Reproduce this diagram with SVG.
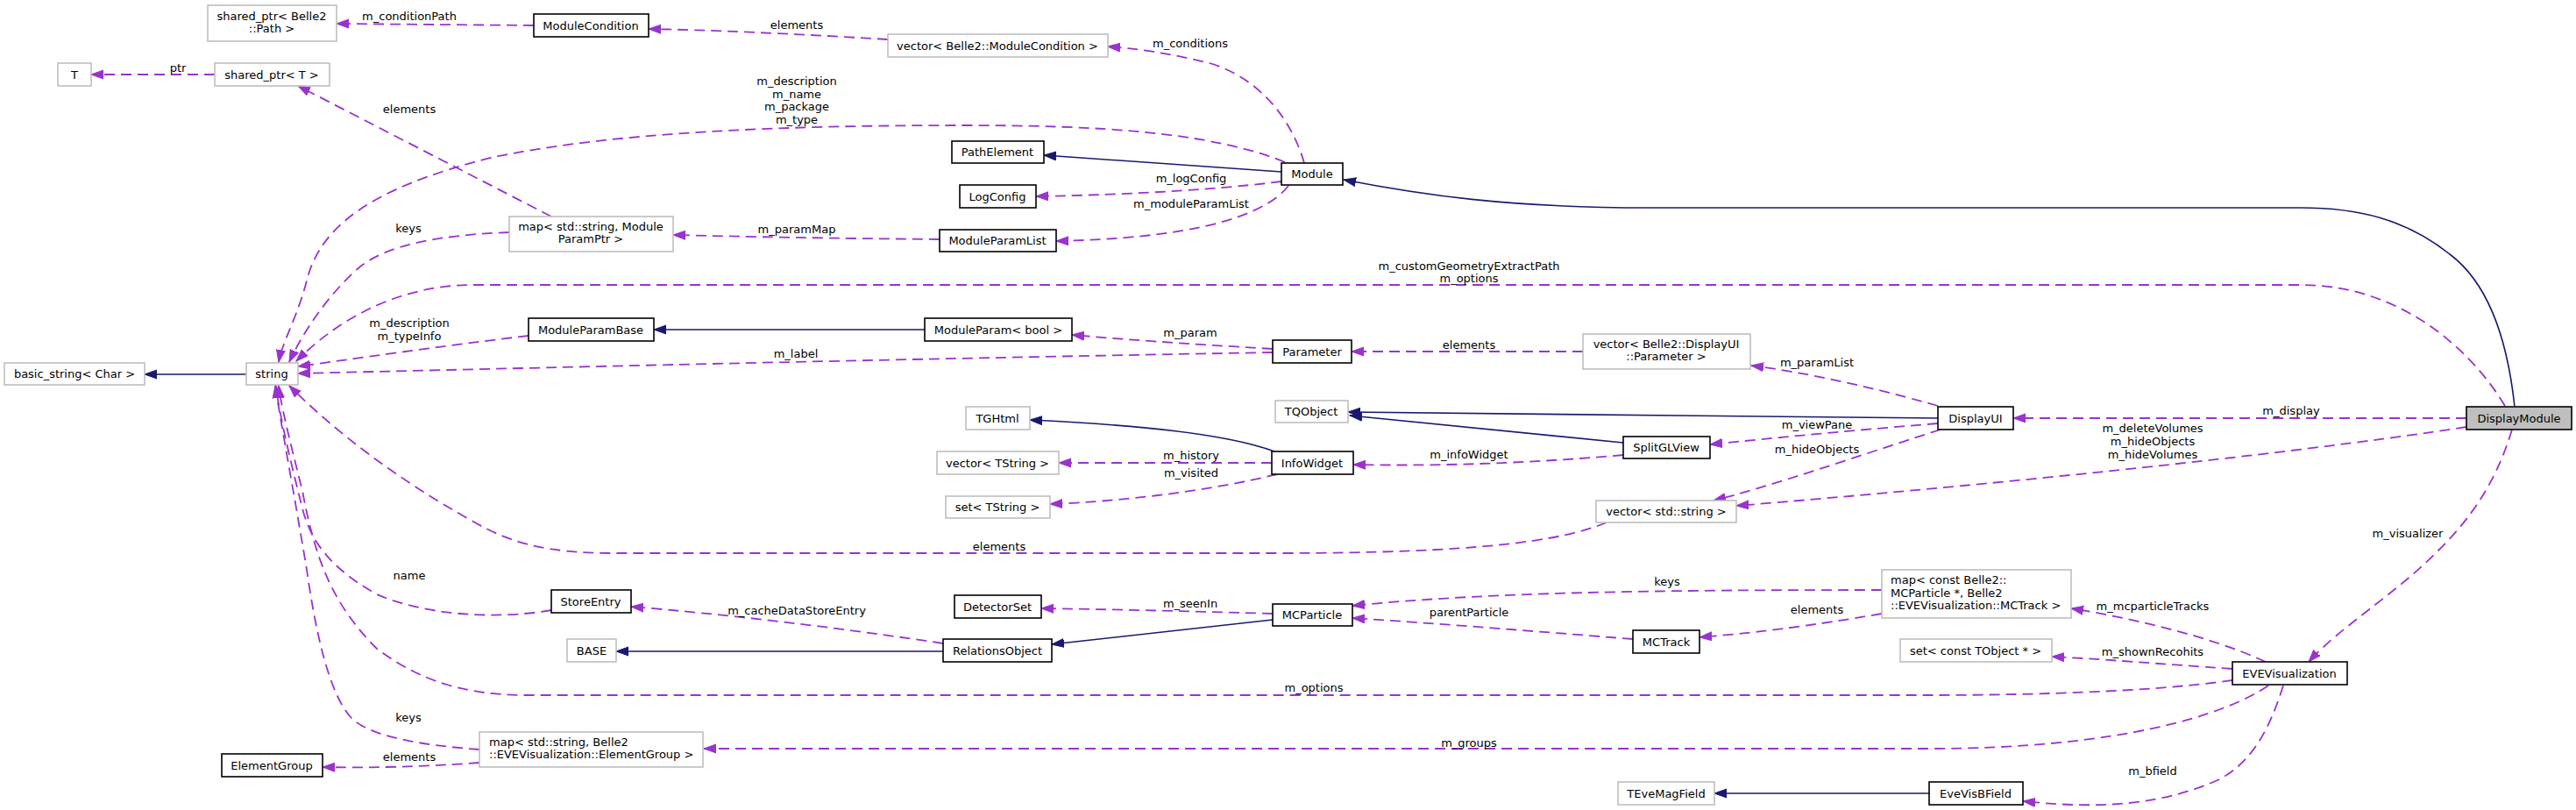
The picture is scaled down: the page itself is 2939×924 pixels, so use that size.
<svg xmlns="http://www.w3.org/2000/svg" width="2939" height="924" viewBox="0 0 2939 924">
<style>
.nd rect{fill:#fff;stroke:#000;stroke-width:1.6}
.gr rect{fill:#fff;stroke:#bfbfbf;stroke-width:1.6}
.me rect{fill:#bfbfbf;stroke:#000;stroke-width:1.6}
text{font-family:"DejaVu Sans","Liberation Sans",sans-serif;font-size:13px;fill:#000}
.c{text-anchor:middle}
.u{fill:none;stroke:#9a32cd;stroke-width:1.8;stroke-dasharray:12,7}
.i{fill:none;stroke:#191970;stroke-width:1.6}
</style>
<defs>
<marker id="ap" markerWidth="16" markerHeight="12" refX="14" refY="5.5" orient="auto" markerUnits="userSpaceOnUse"><path d="M0,0.5 L14,5.5 L0,10.5 z" fill="#9a32cd" stroke="#9a32cd" stroke-width="1"/></marker>
<marker id="an" markerWidth="16" markerHeight="12" refX="14" refY="5.5" orient="auto" markerUnits="userSpaceOnUse"><path d="M0,0.5 L14,5.5 L0,10.5 z" fill="#191970" stroke="#191970" stroke-width="1"/></marker>
</defs>
<rect width="2939" height="924" fill="#fff"/>
<g id="connectors">
<path class="i" marker-end="url(#an)" d="M2869,464 C2860,380 2835,320 2795,290 C2745,250 2690,237 2625,237 L1880,237 C1720,237 1620,222 1533,205"/>
<path class="u" marker-end="url(#ap)" d="M2814,477 L2297,477"/>
<path class="u" marker-end="url(#ap)" d="M2814,487 C2600,520 2250,555 1981,577"/>
<path class="u" marker-end="url(#ap)" d="M2866,490 C2845,560 2810,600 2780,630 C2730,680 2670,715 2634,755"/>
<path class="u" marker-end="url(#ap)" d="M2858,463 C2820,400 2740,325 2625,325 L540,325 C460,325 390,360 338,412"/>
<path class="i" marker-end="url(#an)" d="M1462,196 L1191,177"/>
<path class="u" marker-end="url(#ap)" d="M1462,207 C1400,215 1300,222 1182,224"/>
<path class="u" marker-end="url(#ap)" d="M1470,212 C1440,250 1350,272 1205,275"/>
<path class="u" marker-end="url(#ap)" d="M1488,186 C1475,140 1440,90 1380,72 C1330,60 1300,56 1264,53"/>
<path class="u" marker-end="url(#ap)" d="M1466,185 C1380,150 1250,143 1100,143 C900,143 700,150 560,180 C420,215 365,260 350,320 C340,360 322,390 318,413"/>
<path class="u" marker-end="url(#ap)" d="M1013,45 C900,38 800,34 740,33"/>
<path class="u" marker-end="url(#ap)" d="M609,29 L384,27"/>
<path class="u" marker-end="url(#ap)" d="M245,85 L104,85"/>
<path class="u" marker-end="url(#ap)" d="M629,247 L340,98"/>
<path class="u" marker-end="url(#ap)" d="M581,265 C500,268 440,280 410,305 C375,335 345,380 330,413"/>
<path class="u" marker-end="url(#ap)" d="M1072,273 C950,272 850,270 768,268"/>
<path class="i" marker-end="url(#an)" d="M1055,376 L746,376"/>
<path class="u" marker-end="url(#ap)" d="M603,383 C500,395 400,410 340,418"/>
<path class="u" marker-end="url(#ap)" d="M1452,398 C1350,392 1280,387 1223,382"/>
<path class="u" marker-end="url(#ap)" d="M1452,402 C1000,410 600,420 340,426"/>
<path class="u" marker-end="url(#ap)" d="M1806,401 L1542,401"/>
<path class="u" marker-end="url(#ap)" d="M2211,463 C2130,440 2060,425 1998,417"/>
<path class="i" marker-end="url(#an)" d="M2211,477 C2000,475 1700,472 1538,470"/>
<path class="i" marker-end="url(#an)" d="M1852,505 L1540,474"/>
<path class="u" marker-end="url(#ap)" d="M2211,483 C2100,492 2000,502 1951,507"/>
<path class="u" marker-end="url(#ap)" d="M2214,490 C2120,520 2020,555 1955,571"/>
<path class="u" marker-end="url(#ap)" d="M1852,519 C1750,528 1650,532 1544,530"/>
<path class="i" marker-end="url(#an)" d="M1454,515 C1400,495 1300,485 1175,479"/>
<path class="u" marker-end="url(#ap)" d="M1451,528 L1208,528"/>
<path class="u" marker-end="url(#ap)" d="M1457,541 C1380,560 1280,572 1198,575"/>
<path class="u" marker-end="url(#ap)" d="M1833,596 C1780,618 1680,631 1460,631 L700,631 C620,631 580,618 540,595 C450,545 380,490 330,440"/>
<path class="u" marker-end="url(#ap)" d="M629,696 C560,708 480,700 430,678 C380,650 355,620 345,580 C330,520 318,470 315,440"/>
<path class="u" marker-end="url(#ap)" d="M547,855 C480,850 420,840 400,818 C375,790 360,720 350,650 C335,560 320,480 314,440"/>
<path class="u" marker-end="url(#ap)" d="M547,870 C480,875 420,876 368,875"/>
<path class="u" marker-end="url(#ap)" d="M2547,776 C2450,790 2300,793 2200,793 L600,793 C520,793 470,770 430,740 C380,690 360,640 345,560 C330,500 320,460 318,440"/>
<path class="u" marker-end="url(#ap)" d="M2588,782 C2540,815 2420,854 2200,854 L803,854"/>
<path class="u" marker-end="url(#ap)" d="M2605,782 C2590,830 2570,870 2530,890 C2450,925 2370,920 2308,914"/>
<path class="i" marker-end="url(#an)" d="M2201,905 L1956,905"/>
<path class="u" marker-end="url(#ap)" d="M2585,755 C2520,725 2430,705 2363,694"/>
<path class="u" marker-end="url(#ap)" d="M2547,763 C2460,757 2400,752 2341,749"/>
<path class="u" marker-end="url(#ap)" d="M2147,673 C1900,673 1700,675 1543,691"/>
<path class="u" marker-end="url(#ap)" d="M2147,700 C2060,715 2000,722 1939,727"/>
<path class="u" marker-end="url(#ap)" d="M1863,729 C1750,720 1650,712 1543,705"/>
<path class="u" marker-end="url(#ap)" d="M1452,700 C1350,697 1260,695 1188,694"/>
<path class="i" marker-end="url(#an)" d="M1452,707 L1200,735"/>
<path class="i" marker-end="url(#an)" d="M1076,743 L703,743"/>
<path class="u" marker-end="url(#ap)" d="M1076,734 C950,715 820,700 720,692"/>
<path class="i" marker-end="url(#an)" d="M281,427 L165,427"/>
</g>
<g id="labels" class="c">
<text x="2614" y="473">m_display</text>
<text x="2456" y="493">m_deleteVolumes</text>
<text x="2456" y="508">m_hideObjects</text>
<text x="2456" y="523">m_hideVolumes</text>
<text x="2747" y="613">m_visualizer</text>
<text x="1676" y="308">m_customGeometryExtractPath</text>
<text x="1676" y="322">m_options</text>
<text x="1359" y="208">m_logConfig</text>
<text x="1359" y="237">m_moduleParamList</text>
<text x="1358" y="54">m_conditions</text>
<text x="909" y="97">m_description</text>
<text x="909" y="112">m_name</text>
<text x="909" y="126">m_package</text>
<text x="909" y="141">m_type</text>
<text x="909" y="33">elements</text>
<text x="467" y="23">m_conditionPath</text>
<text x="203" y="82">ptr</text>
<text x="467" y="129">elements</text>
<text x="466" y="265">keys</text>
<text x="909" y="266">m_paramMap</text>
<text x="467" y="373">m_description</text>
<text x="467" y="388">m_typeInfo</text>
<text x="1358" y="384">m_param</text>
<text x="908" y="408">m_label</text>
<text x="1676" y="398">elements</text>
<text x="2073" y="418">m_paramList</text>
<text x="2073" y="489">m_viewPane</text>
<text x="2073" y="517">m_hideObjects</text>
<text x="1676" y="523">m_infoWidget</text>
<text x="1359" y="524">m_history</text>
<text x="1359" y="544">m_visited</text>
<text x="1140" y="628">elements</text>
<text x="467" y="661">name</text>
<text x="466" y="823">keys</text>
<text x="467" y="868">elements</text>
<text x="1499" y="789">m_options</text>
<text x="1676" y="852">m_groups</text>
<text x="2456" y="884">m_bfield</text>
<text x="2456" y="696">m_mcparticleTracks</text>
<text x="2456" y="748">m_shownRecohits</text>
<text x="1902" y="668">keys</text>
<text x="2073" y="700">elements</text>
<text x="1676" y="703">parentParticle</text>
<text x="1358" y="693">m_seenIn</text>
<text x="909" y="701">m_cacheDataStoreEntry</text>
</g>
<g id="DisplayModule" class="me"><rect x="2814" y="464" width="120" height="26"/><text class="c" x="2874" y="482">DisplayModule</text></g>
<g id="Module" class="nd"><rect x="1462" y="186" width="70" height="25"/><text class="c" x="1497" y="203">Module</text></g>
<g id="PathElement" class="nd"><rect x="1086" y="161" width="105" height="25"/><text class="c" x="1138" y="178">PathElement</text></g>
<g id="LogConfig" class="nd"><rect x="1095" y="211" width="87" height="26"/><text class="c" x="1138" y="229">LogConfig</text></g>
<g id="ModuleParamList" class="nd"><rect x="1072" y="262" width="133" height="25"/><text class="c" x="1138" y="279">ModuleParamList</text></g>
<g id="mapModuleParamPtr" class="gr"><rect x="581" y="247" width="187" height="40"/><text class="c" x="674" y="263">map&lt; std::string, Module</text><text class="c" x="674" y="277">ParamPtr &gt;</text></g>
<g id="string" class="gr"><rect x="281" y="414" width="59" height="25"/><text class="c" x="310" y="431">string</text></g>
<g id="basic_string" class="gr"><rect x="5" y="414" width="160" height="25"/><text class="c" x="85" y="431">basic_string&lt; Char &gt;</text></g>
<g id="shared_ptrT" class="gr"><rect x="245" y="72" width="131" height="26"/><text class="c" x="310" y="90">shared_ptr&lt; T &gt;</text></g>
<g id="T" class="gr"><rect x="66" y="72" width="38" height="26"/><text class="c" x="85" y="90">T</text></g>
<g id="ModuleCondition" class="nd"><rect x="609" y="16" width="131" height="26"/><text class="c" x="674" y="34">ModuleCondition</text></g>
<g id="shared_ptrPath" class="gr"><rect x="237" y="6" width="147" height="41"/><text class="c" x="310" y="23">shared_ptr&lt; Belle2</text><text class="c" x="310" y="37">::Path &gt;</text></g>
<g id="vectorModuleCondition" class="gr"><rect x="1013" y="39" width="251" height="26"/><text class="c" x="1138" y="57">vector&lt; Belle2::ModuleCondition &gt;</text></g>
<g id="ModuleParamBase" class="nd"><rect x="603" y="363" width="143" height="26"/><text class="c" x="674" y="381">ModuleParamBase</text></g>
<g id="ModuleParamBool" class="nd"><rect x="1055" y="363" width="168" height="26"/><text class="c" x="1139" y="381">ModuleParam&lt; bool &gt;</text></g>
<g id="Parameter" class="nd"><rect x="1452" y="388" width="90" height="26"/><text class="c" x="1497" y="406">Parameter</text></g>
<g id="vectorParameter" class="gr"><rect x="1806" y="381" width="191" height="40"/><text class="c" x="1901" y="397">vector&lt; Belle2::DisplayUI</text><text class="c" x="1901" y="411">::Parameter &gt;</text></g>
<g id="DisplayUI" class="nd"><rect x="2211" y="464" width="86" height="26"/><text class="c" x="2254" y="482">DisplayUI</text></g>
<g id="TQObject" class="gr"><rect x="1455" y="457" width="83" height="25"/><text class="c" x="1496" y="474">TQObject</text></g>
<g id="SplitGLView" class="nd"><rect x="1852" y="498" width="99" height="25"/><text class="c" x="1901" y="515">SplitGLView</text></g>
<g id="InfoWidget" class="nd"><rect x="1451" y="515" width="93" height="26"/><text class="c" x="1497" y="533">InfoWidget</text></g>
<g id="TGHtml" class="gr"><rect x="1102" y="464" width="73" height="26"/><text class="c" x="1138" y="482">TGHtml</text></g>
<g id="vectorTString" class="gr"><rect x="1069" y="515" width="139" height="26"/><text class="c" x="1138" y="533">vector&lt; TString &gt;</text></g>
<g id="setTString" class="gr"><rect x="1079" y="566" width="119" height="25"/><text class="c" x="1138" y="583">set&lt; TString &gt;</text></g>
<g id="vectorString" class="gr"><rect x="1821" y="571" width="160" height="25"/><text class="c" x="1901" y="588">vector&lt; std::string &gt;</text></g>
<g id="StoreEntry" class="nd"><rect x="629" y="673" width="91" height="26"/><text class="c" x="674" y="691">StoreEntry</text></g>
<g id="BASE" class="gr"><rect x="647" y="729" width="56" height="26"/><text class="c" x="675" y="747">BASE</text></g>
<g id="RelationsObject" class="nd"><rect x="1076" y="729" width="124" height="26"/><text class="c" x="1138" y="747">RelationsObject</text></g>
<g id="DetectorSet" class="nd"><rect x="1089" y="679" width="99" height="26"/><text class="c" x="1138" y="697">DetectorSet</text></g>
<g id="MCParticle" class="nd"><rect x="1452" y="689" width="91" height="25"/><text class="c" x="1497" y="706">MCParticle</text></g>
<g id="MCTrack" class="nd"><rect x="1863" y="719" width="76" height="26"/><text class="c" x="1901" y="737">MCTrack</text></g>
<g id="mapMCTrack" class="gr"><rect x="2147" y="650" width="216" height="55"/><text x="2157" y="666">map&lt; const Belle2::</text><text x="2157" y="681">MCParticle *, Belle2</text><text x="2157" y="695">::EVEVisualization::MCTrack &gt;</text></g>
<g id="setTObject" class="gr"><rect x="2168" y="729" width="173" height="26"/><text class="c" x="2254" y="747">set&lt; const TObject * &gt;</text></g>
<g id="EVEVisualization" class="nd"><rect x="2547" y="755" width="131" height="26"/><text class="c" x="2612" y="773">EVEVisualization</text></g>
<g id="mapElementGroup" class="gr"><rect x="547" y="835" width="255" height="40"/><text x="558" y="851">map&lt; std::string, Belle2</text><text x="558" y="865">::EVEVisualization::ElementGroup &gt;</text></g>
<g id="ElementGroup" class="nd"><rect x="253" y="860" width="115" height="26"/><text class="c" x="310" y="878">ElementGroup</text></g>
<g id="TEveMagField" class="gr"><rect x="1846" y="892" width="110" height="26"/><text class="c" x="1901" y="910">TEveMagField</text></g>
<g id="EveVisBField" class="nd"><rect x="2201" y="892" width="107" height="26"/><text class="c" x="2254" y="910">EveVisBField</text></g>
</svg>
